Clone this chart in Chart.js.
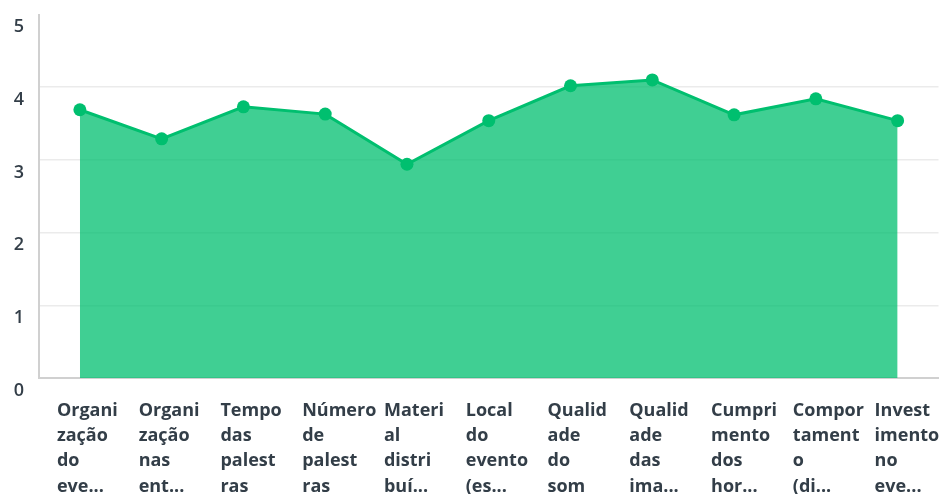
<!DOCTYPE html>
<html>
<head>
<meta charset="utf-8">
<script src="https://cdn.jsdelivr.net/npm/chart.js@4"></script>
<style>
html,body{margin:0;padding:0;background:#fff}
#wrap{width:945px;height:494px}
</style>
</head>
<body>
<div id="wrap"><canvas id="chart"></canvas></div>
<script>
const categories=[
["Organi","zação","do","eve..."],
["Organi","zação","nas","ent..."],
["Tempo","das","palest","ras"],
["Número","de","palest","ras"],
["Materi","al","distri","buí..."],
["Local","do","evento","(es..."],
["Qualid","ade","do","som"],
["Qualid","ade","das","ima..."],
["Cumpri","mento","dos","hor..."],
["Compor","tament","o","(di..."],
["Invest","imento","no","eve..."]
]

const averages=[3.69,3.29,3.73,3.63,2.94,3.54,4.02,4.10,3.62,3.84,3.54]

const yTicks=[0,1,2,3,4,5]

const textColor='#333e48'
const green='#00bf6f'

// drop the extra room chart.js keeps for overhanging labels
function noPad(s){s.paddingLeft=0;s.paddingRight=0;s.paddingTop=0;s.paddingBottom=0}

function yLabelShift(c){
if(!c.tick) return 12.5
if(c.tick.value===0) return 18
if(c.tick.value===5) return 14.5
return 12.5
}

const ctx=document.getElementById('chart')

new Chart(ctx,{
type:'line',
data:{
labels:categories,
datasets:[{
data:averages,
borderColor:green,
backgroundColor:'rgba(0,191,111,0.75)',
borderWidth:3,
fill:'origin',
tension:0,
pointRadius:6.5,
pointBackgroundColor:green,
pointBorderColor:green,
pointBorderWidth:0
}]
},
options:{
responsive:true,
maintainAspectRatio:false,
animation:false,
layout:{padding:{top:14.5,right:-2,left:0,bottom:0}},
plugins:{legend:{display:false},tooltip:{enabled:false}},
scales:{
x:{
offset:true,
grid:{display:false,drawTicks:false},
border:{display:true,color:'#d0d0d0',width:2},
afterFit:s=>{s.height=116;noPad(s)},
ticks:{
autoSkip:false,
maxRotation:0,
align:'start',
labelOffset:-23,
padding:20,
color:textColor,
font:{family:'Open Sans',size:18,weight:'bold',lineHeight:1.405}
}
},
y:{
min:0,
max:5,
afterFit:s=>{s.width=39;noPad(s)},
afterBuildTicks:s=>{s.ticks=yTicks.map(v=>({value:v}))},
grid:{
drawTicks:false,
color:c=>(c.tick && (c.tick.value===5||c.tick.value===0))?'rgba(0,0,0,0)':'#ebebeb',
lineWidth:1.5
},
border:{display:true,color:'#d0d0d0',width:2},
ticks:{
stepSize:1,
padding:15,
labelOffset:yLabelShift,
color:textColor,
font:{family:'Open Sans',size:18,weight:'600'}
}
}
}
}
})
</script>
</body>
</html>
